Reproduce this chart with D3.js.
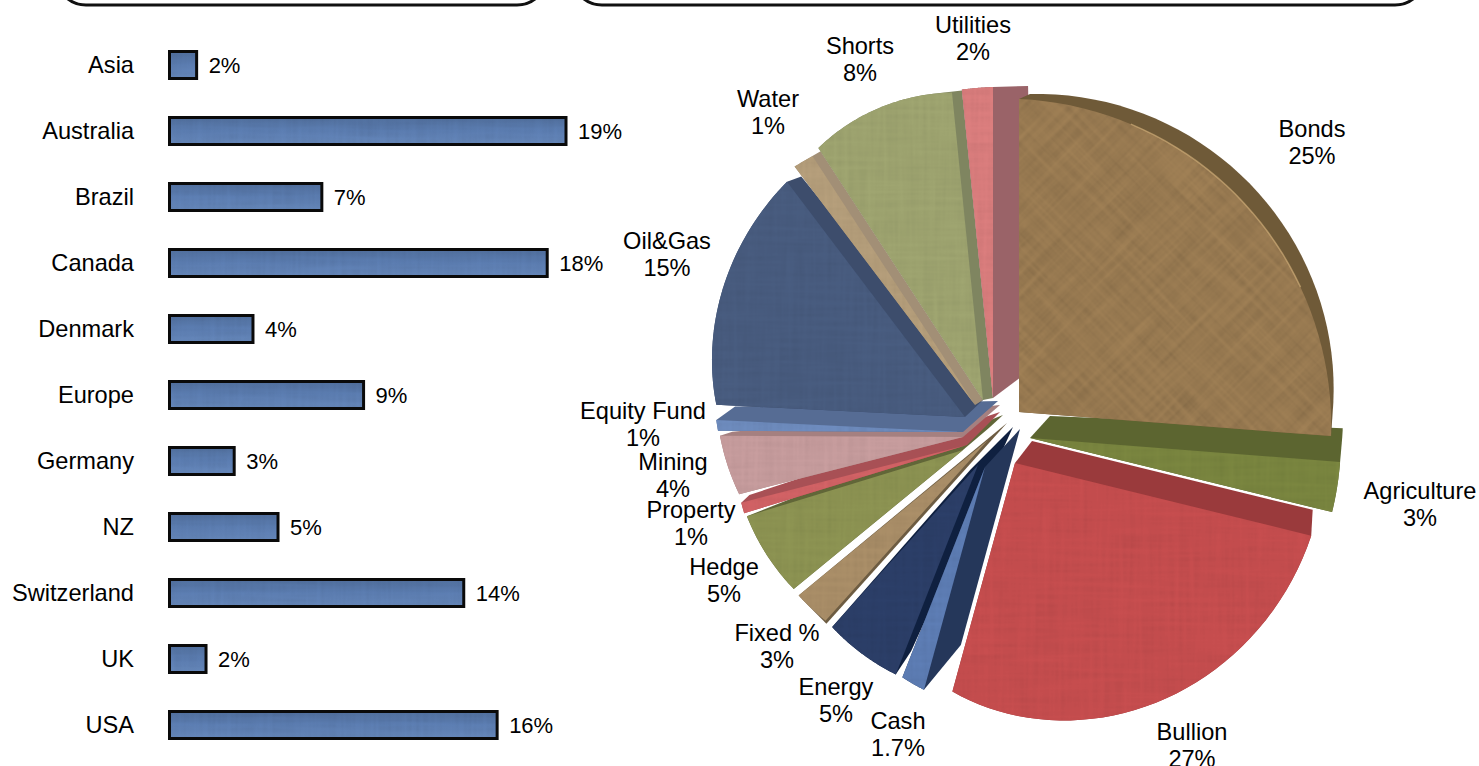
<!DOCTYPE html>
<html>
<head>
<meta charset="utf-8">
<script src="https://cdn.jsdelivr.net/npm/d3@7"></script>
<style>
  html, body { margin: 0; padding: 0; background: #fff; overflow: hidden; }
  text { font-family: "Liberation Sans", Arial, sans-serif; fill: #000; }
</style>
</head>
<body>
<svg id="chart" width="1479" height="766"></svg>
<script>
// left chart
const regions = ['Asia', 'Australia', 'Brazil', 'Canada', 'Denmark', 'Europe', 'Germany', 'NZ', 'Switzerland', 'UK', 'USA'];
const regionValues = [1.3, 19, 7.3, 18.1, 4, 9.3, 3.1, 5.2, 14.1, 1.75, 15.7];
const regionLabels = ['2%', '19%', '7%', '18%', '4%', '9%', '3%', '5%', '14%', '2%', '16%'];

// pie chart, clockwise from 12 o'clock
const sectors = ['Bonds', 'Agriculture', 'Bullion', 'Cash', 'Energy', 'Fixed %', 'Hedge', 'Property', 'Mining', 'Equity Fund', 'Oil&Gas', 'Water', 'Shorts', 'Utilities'];
const sectorShares = [26.2, 2.6, 25.4, 1.7, 5.7, 2.4, 6.2, 0.75, 4.05, 0.7, 13.9, 1.1, 7.6, 1.6];
const sectorLabels = ['25%', '3%', '27%', '1.7%', '5%', '3%', '5%', '1%', '4%', '1%', '15%', '1%', '8%', '2%'];

const frontColors = ['#a08055', '#7b8740', '#c84e4f', '#5e7eb6', '#2c3f69', '#ac9069', '#8e9553', '#d46366', '#c99e9f', '#6f8dc0', '#495d81', '#b7a07c', '#a0a671', '#dc7e7e'];
const wallColors = ['#6f5a38', '#5c6530', '#9a3a3c', '#25375a', '#0f2040', '#6d5c42', '#616638', '#a85055', '#a58080', '#566c94', '#3d4d6c', '#a28f76', '#7f8560', '#9a6368'];

// explode and perspective of each slice: front [dx, dy, r start, r end, bulge], back [dx, dy, r start, r end, rotation, bulge]
const sliceFront = [[0, 0, 313, 313, -6], [11, 26, 311, 311, 0], [-4, 51, 305, 237, 7], [-34, 55, 231, 226, 0], [-41, 53, 225, 218, 0], [-31, 28, 243, 245, 0], [-56, 38, 219, 226, 0], [-52, 33, 233, 233, 0], [-56, 25, 231, 243, 0], [-56, 20, 245, 247, 0], [-54, 5, 249, 295, 2], [-44, -7, 299, 297, 0], [-36, -12, 301, 309, 5], [-26, -14, 310, 311, 0]];
const sliceBack = [[11, -8, 310, 302, 0, 5], [31, 4, 293, 293, -2, 0], [13, 29, 289, 230, 0, 0], [1, 17, 224, 150, 0, 0], [-6, 15, 246, 60, 3, 0], [-12, 11, 270, 0, 0, 0], [-16, 3, 0, 266, -5, 0], [-19, 0, 0, 264, -4, 0], [-19, -7, 0, 269, -6, 0], [-21, -11, 0, 263, -4, 0], [-36, -12, 0, 288, -2, 0], [-36, -12, 0, 297, 0, 0], [-26, -14, 0, 309, 0, 0], [14, -44, 0, 282, -1, 0]];
const sectorLabelPos = [[1312, 137], [1420, 499], [1192, 740], [898, 729], [836, 695], [777, 641], [724, 575], [691, 518], [673, 470], [643, 419], [667, 249], [768, 107], [860, 54], [973, 33]];

const svg = d3.select('#chart');
const defs = svg.append('defs');

function addWeave(id, angle, strength) {
  const filter = defs.append('filter')
    .attr('id', id + '-noise')
    .attr('x', 0).attr('y', 0).attr('width', 1).attr('height', 1);
  filter.append('feTurbulence')
    .attr('type', 'fractalNoise')
    .attr('baseFrequency', '0.012 0.2')
    .attr('numOctaves', 2)
    .attr('seed', 3)
    .attr('stitchTiles', 'stitch')
    .attr('result', 'a');
  filter.append('feTurbulence')
    .attr('type', 'fractalNoise')
    .attr('baseFrequency', '0.2 0.012')
    .attr('numOctaves', 2)
    .attr('seed', 8)
    .attr('stitchTiles', 'stitch')
    .attr('result', 'b');
  filter.append('feBlend').attr('in', 'a').attr('in2', 'b').attr('mode', 'multiply');
  filter.append('feColorMatrix')
    .attr('type', 'matrix')
    .attr('values', `0 0 0 0 0  0 0 0 0 0  0 0 0 0 0  ${strength} 0 0 0 ${-0.2 * strength}`);
  defs.append('pattern')
    .attr('id', id)
    .attr('patternUnits', 'userSpaceOnUse')
    .attr('width', 256).attr('height', 256)
    .attr('patternTransform', `rotate(${angle})`)
    .append('rect')
    .attr('width', 256).attr('height', 256)
    .attr('filter', `url(#${id}-noise)`);
}
addWeave('weave-flat', 0, 0.12);
addWeave('weave-diag', 45, 0.26);

const barFill = defs.append('linearGradient')
  .attr('id', 'bar-fill')
  .attr('x1', 0).attr('y1', 0).attr('x2', 0).attr('y2', 1);
barFill.append('stop').attr('offset', 0).attr('stop-color', '#51709f');
barFill.append('stop').attr('offset', 0.5).attr('stop-color', '#5d7fb4');
barFill.append('stop').attr('offset', 1).attr('stop-color', '#6688bb');

const bondsFill = defs.append('radialGradient')
  .attr('id', 'bonds-fill')
  .attr('gradientUnits', 'userSpaceOnUse')
  .attr('cx', 1180).attr('cy', 150).attr('r', 240);
bondsFill.append('stop').attr('offset', 0).attr('stop-color', '#bd9b65');
bondsFill.append('stop').attr('offset', 1).attr('stop-color', frontColors[0]);

// header boxes, cut by the top of the picture
svg.selectAll('.header')
  .data([[56, 491], [572, 853]])
  .enter()
  .append('rect')
  .attr('class', 'header')
  .attr('x', d => d[0])
  .attr('y', -60)
  .attr('width', d => d[1])
  .attr('height', 65)
  .attr('rx', 30)
  .attr('fill', 'none')
  .attr('stroke', '#111')
  .attr('stroke-width', 3);

// bars
const x = d3.scaleLinear().domain([0, 19]).range([169.5, 566]);
const y = d3.scalePoint().domain(regions).range([65, 725]);
const barHeight = 27;

const bar = svg.selectAll('.bar')
  .data(regions)
  .enter()
  .append('g')
  .attr('class', 'bar');

bar.append('rect')
  .attr('x', x(0))
  .attr('y', d => y(d) - barHeight / 2)
  .attr('width', (d, i) => x(regionValues[i]) - x(0))
  .attr('height', barHeight)
  .attr('fill', 'url(#bar-fill)')
  .attr('stroke', '#0a0a0a')
  .attr('stroke-width', 3);

bar.append('rect')
  .attr('x', x(0) + 1.5)
  .attr('y', d => y(d) - barHeight / 2 + 1.5)
  .attr('width', (d, i) => x(regionValues[i]) - x(0) - 3)
  .attr('height', barHeight - 3)
  .attr('fill', 'url(#weave-flat)');

bar.append('text')
  .attr('x', 134)
  .attr('y', d => y(d) + 8)
  .attr('text-anchor', 'end')
  .style('font-size', '23.6px')
  .text(d => d);

bar.append('text')
  .attr('x', (d, i) => x(regionValues[i]) + 12)
  .attr('y', d => y(d) + 8)
  .style('font-size', '22px')
  .text((d, i) => regionLabels[i]);

// pie
const pieCenter = [1019, 412];
const arcs = d3.pie().sort(null)(sectorShares);

function facePoints(a0, a1, offset, r0, r1, bulge) {
  const pts = [[offset[0], offset[1]]];
  d3.range(0, 41).forEach(k => {
    const t = k / 40;
    const r = r0 + (r1 - r0) * t + bulge * 4 * t * (1 - t);
    const p = d3.pointRadial(a0 + (a1 - a0) * t, r);
    pts.push([p[0] + offset[0], p[1] + offset[1]]);
  });
  return pts;
}

const closed = d3.line();
const pie = svg.append('g').attr('transform', `translate(${pieCenter})`);

// walls of one slice are overlapped by its neighbour, so Bonds goes last
const drawOrder = d3.range(6, 14).concat(d3.range(5, -1, -1));

drawOrder.forEach(i => {
  const arc = arcs[i];
  const f = sliceFront[i];
  const b = sliceBack[i];
  const rot = b[4] * Math.PI / 180;
  const front = facePoints(arc.startAngle, arc.endAngle, [f[0], f[1]], f[2], f[3], f[4]);
  const back = facePoints(arc.startAngle + rot, arc.endAngle + rot, [b[0], b[1]], b[2], b[3], b[5]);
  const frontPath = closed(front) + 'Z';

  const slice = pie.append('g').attr('class', 'slice').attr('data-name', sectors[i]);
  slice.append('path')
    .attr('d', closed(d3.polygonHull(front.concat(back))) + 'Z')
    .attr('fill', wallColors[i]);
  slice.append('path')
    .attr('d', frontPath)
    .attr('fill', i === 0 ? 'url(#bonds-fill)' : frontColors[i]);
  slice.append('path')
    .attr('d', frontPath)
    .attr('fill', i === 0 ? 'url(#weave-diag)' : 'url(#weave-flat)');
  if (i === 0) {
    slice.append('path')
      .attr('d', closed(front.slice(10, 30)))
      .attr('fill', 'none')
      .attr('stroke', '#d9b67f')
      .attr('stroke-opacity', 0.6)
      .attr('stroke-width', 1.5);
  }
});

// pie labels
const label = svg.selectAll('.sector-label')
  .data(sectors)
  .enter()
  .append('text')
  .attr('class', 'sector-label')
  .attr('text-anchor', 'middle')
  .style('font-size', '23.6px');

label.append('tspan')
  .attr('x', (d, i) => sectorLabelPos[i][0])
  .attr('y', (d, i) => sectorLabelPos[i][1])
  .text(d => d);

label.append('tspan')
  .attr('x', (d, i) => sectorLabelPos[i][0])
  .attr('y', (d, i) => sectorLabelPos[i][1] + 26.5)
  .text((d, i) => sectorLabels[i]);
</script>
</body>
</html>
